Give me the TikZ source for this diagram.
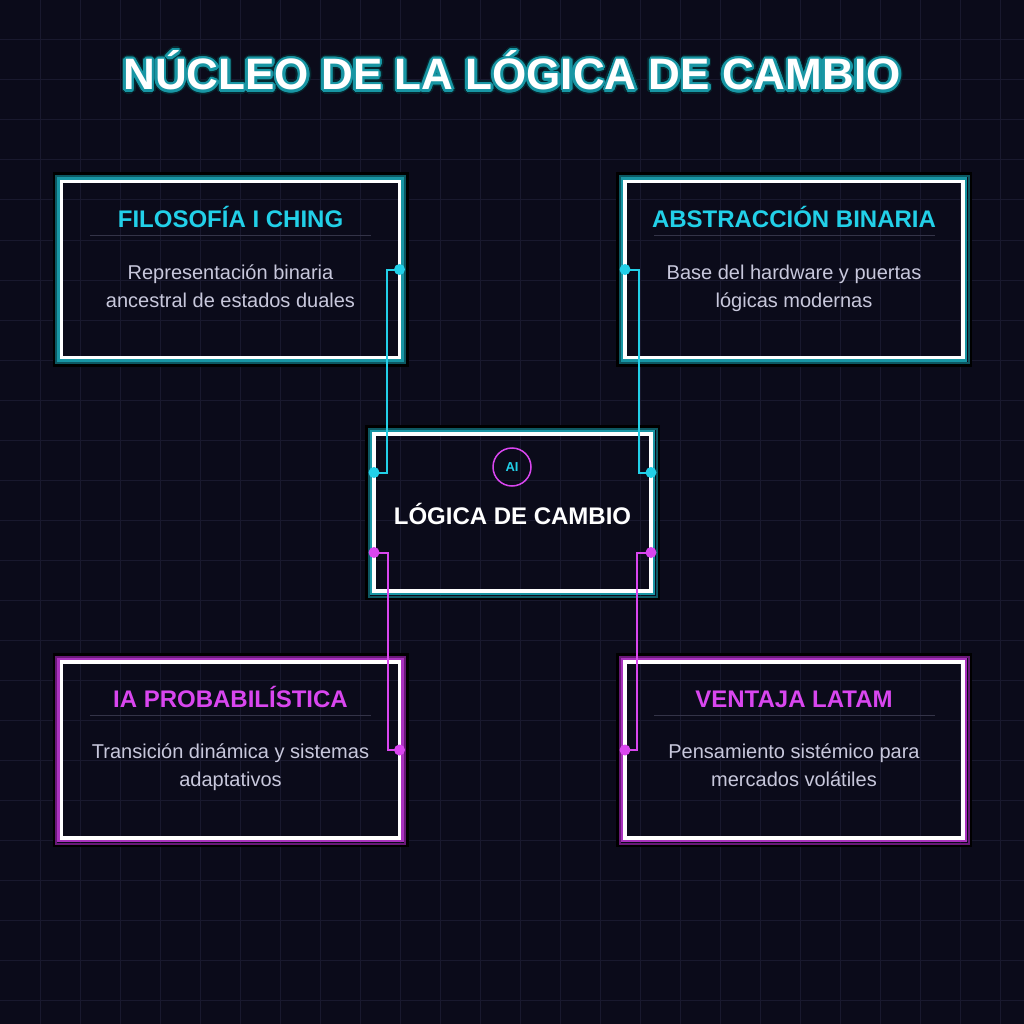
\documentclass[tikz,border=0pt]{standalone}
\usepackage{fontspec}
\setmainfont{Liberation Sans}
\definecolor{bg}{RGB}{11,11,26}
\definecolor{gridc}{RGB}{25,25,46}
\definecolor{cy}{RGB}{34,208,232}
\definecolor{mg}{RGB}{217,70,239}
\definecolor{tealA}{RGB}{24,150,164}
\definecolor{tealB}{RGB}{12,88,98}
\definecolor{magA}{RGB}{170,50,190}
\definecolor{magB}{RGB}{105,25,120}
\definecolor{bodyc}{RGB}{200,200,220}
\definecolor{sepc}{RGB}{52,52,72}
\definecolor{tdark}{RGB}{6,40,48}
\tikzset{
  frame/.style={draw=white, line width=3.5pt, minimum width=338pt, minimum height=176pt, outer sep=0pt, inner sep=0pt},
  ttl/.style={anchor=base, font=\bfseries\fontsize{24}{28}\selectfont},
  bodytxt/.style={anchor=base, text=bodyc, font=\fontsize{20}{28}\selectfont},
  sepline/.style={draw=sepc, line width=1pt},
  wire/.style={line width=2pt},
  dot/.style={circle, fill, inner sep=0pt, minimum size=11pt},
  bigtitle/.style={anchor=base, font=\bfseries\fontsize{44}{50}\selectfont},
}
\newcommand\glowframe[3]{%
  \draw[black, line width=3pt] ([shift={(-7.5,-7.5)}]#1.north west) rectangle ([shift={(7.5,7.5)}]#1.south east);
  \draw[#3, line width=2pt] ([shift={(-5.5,-5.5)}]#1.north west) rectangle ([shift={(5.5,5.5)}]#1.south east);
  \draw[#2, line width=2.5pt] ([shift={(-3.2,-3.2)}]#1.north west) rectangle ([shift={(3.2,3.2)}]#1.south east);
}
\begin{document}
\begin{tikzpicture}[x=1pt,y=-1pt]
\fill[bg] (0,0) rectangle (1024,1024);
\useasboundingbox (0,0) rectangle (1024,1024);
\foreach \i in {40,80,...,1000} {
  \draw[gridc, line width=1pt] (\i,0) -- (\i,1024);
  \draw[gridc, line width=1pt] (0,\i) -- (1024,\i);
}
% title with glow
\foreach \a [count=\k] in {0,22.5,...,337.5} {
  \node[bigtitle, text=tdark] (tgd\k) at ([shift={(\a:4.2)}]512,90) {NÚCLEO DE LA LÓGICA DE CAMBIO};
}
\foreach \a [count=\k] in {0,22.5,...,337.5} {
  \node[bigtitle, text=tealA] (tg\k) at ([shift={(\a:2.6)}]512,90) {NÚCLEO DE LA LÓGICA DE CAMBIO};
}
\node[bigtitle, text=white] (title) at (512,90) {NÚCLEO DE LA LÓGICA DE CAMBIO};

% boxes
\node[frame] (tl) at (230.5,269.5) {};
\node[frame] (tr) at (794,269.5) {};
\node[frame] (bl) at (230.5,750) {};
\node[frame] (br) at (794,750) {};
\node[frame, minimum width=277pt, minimum height=157pt] (c) at (512.5,512.5) {};
\glowframe{tl}{tealA}{tealB}
\glowframe{tr}{tealA}{tealB}
\glowframe{c}{tealA}{tealB}
\glowframe{bl}{magA}{magB}
\glowframe{br}{magA}{magB}
\node[frame] (tlw) at (tl) {};
\node[frame] (trw) at (tr) {};
\node[frame] (blw) at (bl) {};
\node[frame] (brw) at (br) {};
\node[frame, minimum width=277pt, minimum height=157pt] (cw) at (c) {};

% box texts
\node[ttl, text=cy] (tlt) at (230.5,227) {FILOSOFÍA I CHING};
\draw[sepline] (90,235) -- (371,235);
\node[bodytxt] (tlb1) at (230.5,279) {Representación binaria};
\node[bodytxt] (tlb2) at (230.5,307) {ancestral de estados duales};

\node[ttl, text=cy] (trt) at (794,227) {ABSTRACCIÓN BINARIA};
\draw[sepline] (654,235) -- (935,235);
\node[bodytxt] (trb1) at (794,279) {Base del hardware y puertas};
\node[bodytxt] (trb2) at (794,307) {lógicas modernas};

\node[ttl, text=mg] (blt) at (230.5,707) {IA PROBABILÍSTICA};
\draw[sepline] (90,715) -- (371,715);
\node[bodytxt] (blb1) at (230.5,758) {Transición dinámica y sistemas};
\node[bodytxt] (blb2) at (230.5,786) {adaptativos};

\node[ttl, text=mg] (brt) at (794,707) {VENTAJA LATAM};
\draw[sepline] (654,715) -- (935,715);
\node[bodytxt] (brb1) at (794,758) {Pensamiento sistémico para};
\node[bodytxt] (brb2) at (794,786) {mercados volátiles};

% center
\node[circle, draw=mg, line width=1.5pt, minimum size=38pt, inner sep=0pt] (ai) at (512,467) {};
\node[anchor=base, text=cy, font=\bfseries\fontsize{13}{15}\selectfont] (ait) at (512,471.5) {AI};
\node[anchor=base, text=white, font=\bfseries\fontsize{24}{28}\selectfont] (ct) at (512.5,524.5) {LÓGICA DE CAMBIO};

% connectors
\coordinate (cL1) at ([yshift=40pt]c.west);
\coordinate (cL2) at ([yshift=-40pt]c.west);
\coordinate (cR1) at ([yshift=40pt]c.east);
\coordinate (cR2) at ([yshift=-40pt]c.east);
\draw[wire, cy] (tl.east) -- ++(-13,0) |- (cL1);
\draw[wire, cy] (tr.west) -- ++(14,0) |- (cR1);
\draw[wire, mg] (cL2) -- ++(14,0) |- (bl.east);
\draw[wire, mg] (cR2) -- ++(-14,0) |- (br.west);
\node[dot, cy] (d1) at (tl.east) {};
\node[dot, cy] (d2) at (cL1) {};
\node[dot, cy] (d3) at (tr.west) {};
\node[dot, cy] (d4) at (cR1) {};
\node[dot, mg] (d5) at (cL2) {};
\node[dot, mg] (d6) at (bl.east) {};
\node[dot, mg] (d7) at (cR2) {};
\node[dot, mg] (d8) at (br.west) {};
\end{tikzpicture}
\end{document}
